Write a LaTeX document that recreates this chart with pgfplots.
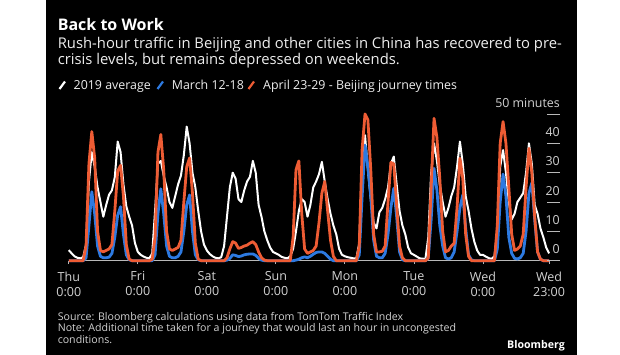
\documentclass[border=0pt]{standalone}
\usepackage{fontspec}
\setmainfont{Open Sans}
\usepackage{pgfplots}
\usepackage{pgfplotstable}
\pgfplotsset{compat=1.18}
\definecolor{lineblue}{RGB}{45,122,225}
\definecolor{linered}{RGB}{238,92,52}
\definecolor{txt}{RGB}{238,238,238}
\definecolor{txtgray}{RGB}{210,210,210}
\definecolor{axisgray}{RGB}{185,185,185}

\pgfplotstableread{
h w m a
0 3.6 0 0
1 2.5 0 0
2 1.5 0 0
3 1.0 0 0
4 0.8 0 0
5 1.2 0 0
6 5.5 1 5
7 27 12 33
8 37 23.5 44
9 32 16 35
10 25 5 10
11 20 1.5 3.5
12 15 1 3
13 19 1 3.5
14 22.5 1.2 4
15 24 2.5 5.5
16 28.5 8 17
17 40.6 15.5 30.5
18 37 18.4 32.5
19 26 9 22
20 18.5 2 5.5
21 15 0.3 0.5
22 12 0 0
23 6 0 0
24 3 0 0
25 2 0 0
26 1.4 0 0
27 1 0 0
28 0.8 0 0
29 2.5 0 0.5
30 17 2 8
31 33 16 37
32 34 24.5 43
33 29 16 31
34 25 5 10
35 20 1.5 4
36 18 1 3.5
37 22 1 4
38 26 1.5 4.5
39 29 3 7
40 36 10 20
41 45.7 19 32
42 40 22.4 35
43 30 10 23
44 25 2 6
45 17 0.3 0.5
46 10 0 0
47 5.5 0 0
48 3.5 0 0
49 2.3 0 0
50 1.5 0 0
51 1 0 0
52 0.8 0 0
53 1.2 0 0
54 5 0 0
55 15 0.2 1
56 25 0.8 4
57 30 2 6.5
58 28 1.8 6
59 21 1.4 4.2
60 20 1.6 4.5
61 24 2 5
62 27 2.2 5.3
63 28.6 2.3 6
64 34 2.3 6.5
65 30 1.8 5.5
66 19 0.8 3
67 15 0.2 1
68 10 0 0.2
69 7 0 0
70 4.5 0 0
71 3 0 0
72 2.5 0 0
73 2 0 0
74 1.3 0 0
75 1 0 0
76 0.8 0 0
77 1.5 0 0
78 4 0 8
79 10 0.2 31
80 17 0.5 34
81 21 1 16
82 20 1.3 4
83 15 1 2.5
84 19 1.5 3
85 25 2.2 3.5
86 27 2.8 5
87 29.5 3 13
88 33.7 3 23
89 27 2.5 27
90 21 1.5 17
91 16 0.5 7
92 12 0 1.5
93 9 0 0
94 4 0 0
95 2 0 0
96 1.5 0 0
97 1.2 0 0
98 1 0 0
99 0.8 0 0
100 0.8 0 0
101 6 2 5
102 32 22 38
103 42.8 39.4 50
104 31 32 48
105 21 22 31
106 13 7 9
107 11 1.5 3
108 16.5 1 3
109 18 1 3.2
110 21 2.5 5
111 25 9 20
112 33 18 33.5
113 35.5 24.7 33
114 26 15 19
115 17 3 5
116 12 0.3 1
117 9 0 0
118 4.5 0 0
119 2.5 0 0
120 2 0 0
121 1.4 0 0
122 0.8 0 0
123 0.7 0 0
124 0.6 0 0
125 8 1 1
126 30 14 25
127 40 31.5 48.5
128 34 24 42
129 26 12 28
130 20 5 10
131 15 1 3
132 18 0.6 3.5
133 22 1 5
134 25 3 6
135 32 10 18
136 40.6 18 34.9
137 33 22.4 28
138 22 11 9
139 17 2 1.5
140 11 0.3 0
141 6.5 0 0
142 3.5 0 0
143 2 0 0
144 2 0 0
145 1.4 0 0
146 0.9 0 0
147 0.6 0 0
148 1.5 0 0
149 10 4 12
150 32 20 40
151 37.7 29.5 47.4
152 30 22 40
153 20 8 25
154 14 2.5 9
155 16 0.8 3.5
156 20 0.6 4
157 21.5 1 5
158 23 2.5 9
159 30 10 25
160 40 23 38.3
161 33 26.5 30
162 19 14 15
163 16 3 3
164 11 0.5 0.5
165 8 0 0
166 4.5 0 0
167 2.5 0 0
}\traffic

\begin{document}
\begin{tikzpicture}
\fill[white] (0,0) rectangle (620bp,-355bp);
\fill[black] (46bp,0) rectangle (577bp,-355bp);
% titles
\node[anchor=base west, inner sep=0pt, text=white, font=\fontsize{16bp}{18bp}\selectfont\bfseries] at (57.6bp,-30bp) {Back to Work};
\node[anchor=base west, inner sep=0pt, text=txt, font=\fontsize{14.8bp}{16bp}\selectfont] at (57.6bp,-48bp) {Rush-hour traffic in Beijing and other cities in China has recovered to pre-};
\node[anchor=base west, inner sep=0pt, text=txt, font=\fontsize{14.8bp}{16bp}\selectfont] at (57.6bp,-64.5bp) {crisis levels, but remains depressed on weekends.};
% legend
\draw[white, line width=2.2bp] (59.5bp,-89bp) -- (65bp,-81.5bp);
\node[anchor=base west, inner sep=0pt, text=txt, font=\fontsize{12.4bp}{14bp}\selectfont] at (73.5bp,-89.3bp) {2019 average};
\draw[lineblue, line width=2.2bp] (157.5bp,-89bp) -- (163bp,-81.5bp);
\node[anchor=base west, inner sep=0pt, text=txt, font=\fontsize{12.4bp}{14bp}\selectfont] at (171.7bp,-89.3bp) {March 12-18};
\draw[linered, line width=2.2bp] (248.5bp,-89bp) -- (254bp,-81.5bp);
\node[anchor=base west, inner sep=0pt, text=txt, font=\fontsize{12.4bp}{14bp}\selectfont] at (263bp,-89.3bp) {April 23-29 - Beijing journey times};

% data axis
\begin{axis}[
  at={(68.8bp,-260.7bp)}, anchor=south west,
  scale only axis, width=491.2bp, height=152.6bp,
  xmin=0, xmax=170.8, ymin=0, ymax=52,
  clip=false,
  axis x line*=bottom, axis y line=none,
  x axis line style={draw=axisgray, line width=0.8bp},
  xtick={0,24,48,72,96,120,144,167},
  xticklabels={Thu\\0:00,Fri\\0:00,Sat\\0:00,Sun\\0:00,Mon\\0:00,Tue\\0:00,Wed\\0:00,Wed\\23:00},
  xticklabel style={align=center, text=txtgray, font=\fontsize{12.5bp}{15bp}\selectfont, inner sep=0pt, yshift=-7.3bp},
  tick align=outside, major tick length=3.5bp,
  xtick style={draw=axisgray, line width=0.8bp},
  ytick=\empty,
]
\addplot[white, line width=2bp, line join=round] table[x=h,y=w]{\traffic};
\addplot[lineblue, line width=2.8bp, line join=round] table[x=h,y=m]{\traffic};
\addplot[linered, line width=2.8bp, line join=round] table[x=h,y=a]{\traffic};
\end{axis}

% y tick axis
\begin{axis}[
  at={(68.8bp,-260.7bp)}, anchor=south west,
  scale only axis, width=491.2bp, height=152.6bp,
  xmin=0, xmax=170.8, ymin=0, ymax=52,
  axis x line=none, axis y line*=right, y axis line style={draw=none},
  xtick=\empty,
  ytick={0,10,20,30,40,50}, yticklabels={0,10,20,30,40,50 minutes},
  tick align=inside, major tick length=13.2bp,
  ytick style={draw=axisgray, line width=0.8bp},
  yticklabel style={anchor=south east, inner sep=0pt, yshift=6.5bp, text=txtgray, font=\fontsize{12.4bp}{14bp}\selectfont},
]
\end{axis}

% footer
\node[anchor=base west, inner sep=0pt, text=txtgray, font=\fontsize{10.6bp}{13bp}\selectfont] at (57.6bp,-320bp) {Source: Bloomberg calculations using data from TomTom Traffic Index};
\node[anchor=base west, inner sep=0pt, text=txtgray, font=\fontsize{10.6bp}{13bp}\selectfont] at (57.6bp,-331.7bp) {Note: Additional time taken for a journey that would last an hour in uncongested};
\node[anchor=base west, inner sep=0pt, text=txtgray, font=\fontsize{10.6bp}{13bp}\selectfont] at (57.6bp,-343.3bp) {conditions.};
\node[anchor=base east, inner sep=0pt, text=white, font=\fontsize{10.6bp}{13bp}\selectfont\bfseries] at (565bp,-348.3bp) {Bloomberg};
\pgfresetboundingbox
\useasboundingbox (0,0) rectangle (620bp,-355bp);
\end{tikzpicture}
\end{document}
